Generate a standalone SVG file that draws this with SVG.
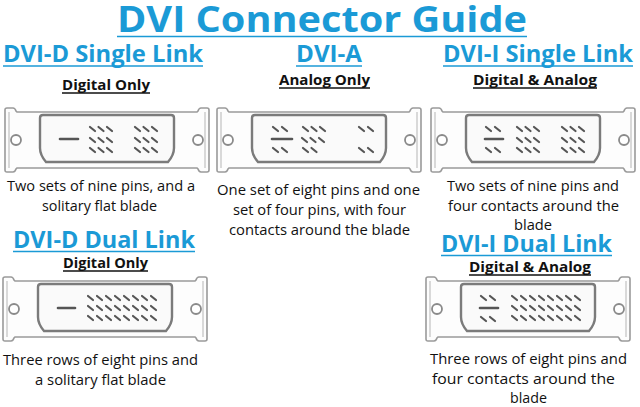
<svg xmlns="http://www.w3.org/2000/svg" xmlns:xlink="http://www.w3.org/1999/xlink" width="640" height="407" viewBox="0 0 640 407">
<style>
.h{font-family:"Open Sans","Liberation Sans",sans-serif;font-weight:700;fill:#1b9ad6;text-anchor:middle}
.s{font-family:"Open Sans","Liberation Sans",sans-serif;font-weight:700;fill:#111;text-anchor:middle;font-size:14.5px}
.t{font-family:"Open Sans","Liberation Sans",sans-serif;fill:#111;text-anchor:middle;font-size:14.5px}
.ub{stroke:#1b9ad6;stroke-width:1.6}
.uk{stroke:#111;stroke-width:1.4}
.pl{fill:#fdfdfd;stroke:#9a9a9a;stroke-width:1.6}
.il{fill:none;stroke:#b5b5b5;stroke-width:1}
.d{fill:#fafafa;stroke:#7b7b7b;stroke-width:2.4}
.c{fill:#fff;stroke:#8a8a8a;stroke-width:1.8}
.p{fill:none;stroke:#555;stroke-width:2.2;stroke-linecap:round}
.b{fill:none;stroke:#555;stroke-width:2.6;stroke-linecap:round}
</style>
<defs>
<g id="plate">
<path class="pl" d="M0,2 Q0,0 2,0 H8 Q10,0 11,3 L12,4 H192 L193,3 Q194,0 196,0 H202 Q204,0 204,2 V62 Q204,64 202,64 H196 Q194,64 193,61 L192,60 H12 L11,61 Q10,64 8,64 H2 Q0,64 0,62 Z"/>
<path class="il" d="M4,4 V60 M200,4 V60"/>
<path class="d" d="M39,7 H166 Q169,7 169,10 V40 Q169,47 163,54 H41 Q35,47 35,40 V10 Q35,7 38,7 Z"/>
<circle class="c" cx="11" cy="32" r="5"/>
<circle class="c" cx="193" cy="32" r="5"/>
</g>
</defs>
<rect width="640" height="407" fill="#fff"/>

<g id="title">
<text class="h" x="322" y="32" font-size="36" textLength="410" lengthAdjust="spacingAndGlyphs">DVI Connector Guide</text>
<line class="ub" x1="117" y1="36.5" x2="527" y2="36.5" stroke-width="2.2"/>
</g>

<g id="dvi-d-single">
<text class="h" x="103" y="62" font-size="24" textLength="200" lengthAdjust="spacingAndGlyphs">DVI-D Single Link</text>
<line class="ub" x1="3" y1="66" x2="203" y2="66"/>
<text class="s" x="106" y="90" textLength="88" lengthAdjust="spacingAndGlyphs">Digital Only</text>
<line class="uk" x1="62" y1="93" x2="150" y2="93"/>
<g transform="translate(5,108)">
<use href="#plate" xlink:href="#plate"/>
<path class="b" d="M55,31 H73"/>
<path class="p" d="M85,19 l5,4 m3.5,-4 l5,4 m3.5,-4 l5,4 M85,30 l5,4 m3.5,-4 l5,4 m3.5,-4 l5,4 M85,40 l5,4 m3.5,-4 l5,4 m3.5,-4 l5,4"/>
<path class="p" d="M130,19 l5,4 m3.5,-4 l5,4 m3.5,-4 l5,4 M130,30 l5,4 m3.5,-4 l5,4 m3.5,-4 l5,4 M130,40 l5,4 m3.5,-4 l5,4 m3.5,-4 l5,4"/>
</g>
<text class="t" x="101" y="191" textLength="188" lengthAdjust="spacingAndGlyphs">Two sets of nine pins, and a</text>
<text class="t" x="99.5" y="211" textLength="115" lengthAdjust="spacingAndGlyphs">solitary flat blade</text>
</g>

<g id="dvi-a">
<text class="h" x="329" y="62" font-size="24" textLength="66" lengthAdjust="spacingAndGlyphs">DVI-A</text>
<line class="ub" x1="296" y1="66" x2="362" y2="66"/>
<text class="s" x="324.5" y="85" textLength="91" lengthAdjust="spacingAndGlyphs">Analog Only</text>
<line class="uk" x1="279" y1="88" x2="370" y2="88"/>
<g transform="translate(217,108)">
<use href="#plate" xlink:href="#plate"/>
<path class="b" d="M55,31 H75"/>
<path class="p" d="M56,19 l5,4 m4,-4 l5,4 M56,40 l5,4 m4,-4 l5,4"/>
<path class="p" d="M86,19 l5,4 m3.5,-4 l5,4 m3.5,-4 l5,4 M85,30 l5,4 m3.5,-4 l5,4 m3.5,-4 l5,4 M86,40 l5,4 m3.5,-4 l5,4"/>
<path class="p" d="M142,19 l5,4 m4,-4 l5,4 M142,40 l5,4 m4,-4 l5,4"/>
</g>
<text class="t" x="318.5" y="195" textLength="203" lengthAdjust="spacingAndGlyphs">One set of eight pins and one</text>
<text class="t" x="319.5" y="215" textLength="173" lengthAdjust="spacingAndGlyphs">set of four pins, with four</text>
<text class="t" x="319.5" y="235" textLength="181" lengthAdjust="spacingAndGlyphs">contacts around the blade</text>
</g>

<g id="dvi-i-single">
<text class="h" x="538" y="62" font-size="24" textLength="190" lengthAdjust="spacingAndGlyphs">DVI-I Single Link</text>
<line class="ub" x1="443" y1="66" x2="633" y2="66"/>
<text class="s" x="535" y="85" textLength="124" lengthAdjust="spacingAndGlyphs">Digital &amp; Analog</text>
<line class="uk" x1="473" y1="88" x2="597" y2="88"/>
<g transform="translate(431,108)">
<use href="#plate" xlink:href="#plate"/>
<path class="b" d="M54,31 H72"/>
<path class="p" d="M55,19 l5,4 m4,-4 l5,4 M55,40 l5,4 m4,-4 l5,4"/>
<path class="p" d="M86,19 l5,4 m3.5,-4 l5,4 m3.5,-4 l5,4 M86,30 l5,4 m3.5,-4 l5,4 m3.5,-4 l5,4 M86,40 l5,4 m3.5,-4 l5,4 m3.5,-4 l5,4"/>
<path class="p" d="M131,19 l5,4 m3.5,-4 l5,4 m3.5,-4 l5,4 M131,30 l5,4 m3.5,-4 l5,4 m3.5,-4 l5,4 M131,40 l5,4 m3.5,-4 l5,4 m3.5,-4 l5,4"/>
</g>
<text class="t" x="533" y="191" textLength="172" lengthAdjust="spacingAndGlyphs">Two sets of nine pins and</text>
<text class="t" x="533.5" y="211" textLength="171" lengthAdjust="spacingAndGlyphs">four contacts around the</text>
<text class="t" x="533" y="230" textLength="38" lengthAdjust="spacingAndGlyphs">blade</text>
</g>

<g id="dvi-d-dual">
<text class="h" x="104" y="248" font-size="24" textLength="182" lengthAdjust="spacingAndGlyphs">DVI-D Dual Link</text>
<line class="ub" x1="13" y1="251.5" x2="195" y2="251.5"/>
<text class="s" x="105.5" y="268" textLength="85" lengthAdjust="spacingAndGlyphs">Digital Only</text>
<line class="uk" x1="63" y1="271" x2="148" y2="271"/>
<g transform="translate(3,277)">
<use href="#plate" xlink:href="#plate"/>
<path class="b" d="M55,31 H72"/>
<path class="p" d="M85,19 l5,4 m4,-4 l5,4 m4,-4 l5,4 m4,-4 l5,4 m4,-4 l5,4 m4,-4 l5,4 m4,-4 l5,4 m4,-4 l5,4 M85,29 l5,4 m4,-4 l5,4 m4,-4 l5,4 m4,-4 l5,4 m4,-4 l5,4 m4,-4 l5,4 m4,-4 l5,4 m4,-4 l5,4 M85,39 l5,4 m4,-4 l5,4 m4,-4 l5,4 m4,-4 l5,4 m4,-4 l5,4 m4,-4 l5,4 m4,-4 l5,4 m4,-4 l5,4"/>
</g>
<text class="t" x="100.5" y="365" textLength="195" lengthAdjust="spacingAndGlyphs">Three rows of eight pins and</text>
<text class="t" x="100.5" y="385" textLength="131" lengthAdjust="spacingAndGlyphs">a solitary flat blade</text>
</g>

<g id="dvi-i-dual">
<text class="h" x="526.5" y="252" font-size="24" textLength="171" lengthAdjust="spacingAndGlyphs">DVI-I Dual Link</text>
<line class="ub" x1="441" y1="255.5" x2="612" y2="255.5"/>
<text class="s" x="530" y="272" textLength="122" lengthAdjust="spacingAndGlyphs">Digital &amp; Analog</text>
<line class="uk" x1="469" y1="275" x2="591" y2="275"/>
<g transform="translate(426,277)">
<use href="#plate" xlink:href="#plate"/>
<path class="b" d="M54,31 H72"/>
<path class="p" d="M55,19 l5,4 m4,-4 l5,4 M55,40 l5,4 m4,-4 l5,4"/>
<path class="p" d="M86,19 l5,4 m4,-4 l5,4 m4,-4 l5,4 m4,-4 l5,4 m4,-4 l5,4 m4,-4 l5,4 m4,-4 l5,4 m4,-4 l5,4 M86,29 l5,4 m4,-4 l5,4 m4,-4 l5,4 m4,-4 l5,4 m4,-4 l5,4 m4,-4 l5,4 m4,-4 l5,4 m4,-4 l5,4 M86,39 l5,4 m4,-4 l5,4 m4,-4 l5,4 m4,-4 l5,4 m4,-4 l5,4 m4,-4 l5,4 m4,-4 l5,4 m4,-4 l5,4"/>
</g>
<text class="t" x="528.5" y="364" textLength="197" lengthAdjust="spacingAndGlyphs">Three rows of eight pins and</text>
<text class="t" x="523.5" y="384" textLength="183" lengthAdjust="spacingAndGlyphs">four contacts around the</text>
<text class="t" x="528.5" y="403" textLength="37" lengthAdjust="spacingAndGlyphs">blade</text>
</g>

<g id="connectors"/>
</svg>
